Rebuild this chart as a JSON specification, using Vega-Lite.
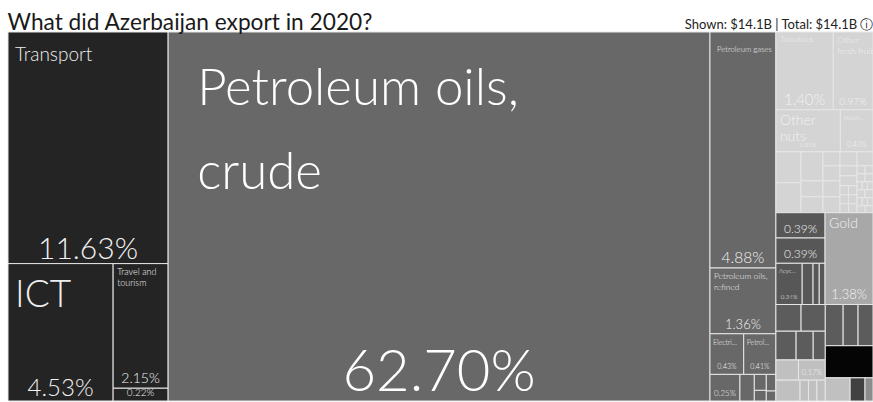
{
  "$schema": "https://vega.github.io/schema/vega-lite/v6.json",
  "width": 865,
  "height": 369,
  "autosize": {"type": "none"},
  "padding": {"left": 8, "top": 32, "right": 0, "bottom": 1},
  "background": "#ffffff",
  "title": {"text": "What did Azerbaijan export in 2020?", "anchor": "start", "font": "Lato", "fontSize": 22.7, "fontWeight": "normal", "color": "#1a1a1a", "offset": -17},
  "config": {
    "view": {"stroke": null},
    "axisX": {"titleAnchor": "end", "titleFont": "Lato", "titleFontSize": 13, "titleFontWeight": "normal", "titleColor": "#222222", "titlePadding": 4, "titleBaseline": "alphabetic", "labels": false, "ticks": false, "domain": false, "grid": false}
  },
  "data": {"values": [
    {"name": "Transport", "sector": "Services", "v": 11.63, "c": 1, "r": 1, "k": 1, "s": 1},
    {"name": "ICT", "sector": "Services", "v": 4.53, "c": 1, "r": 2, "k": 1, "s": 1},
    {"name": "Travel and\ntourism", "sector": "Services", "v": 2.15, "c": 1, "r": 2, "k": 2, "s": 1},
    {"name": "Insurance and finance", "sector": "Services", "v": 0.22, "c": 1, "r": 2, "k": 2, "s": 2},
    {"name": "Petroleum oils,\ncrude", "sector": "Minerals", "v": 62.70, "c": 2, "r": 1, "k": 1, "s": 1},
    {"name": "Petroleum gases", "sector": "Minerals", "v": 4.88, "c": 3, "r": 1, "k": 1, "s": 1},
    {"name": "Petroleum oils,\nrefined", "sector": "Minerals", "v": 1.36, "c": 3, "r": 2, "k": 1, "s": 1},
    {"name": "Electrical energy", "sector": "Minerals", "v": 0.43, "c": 3, "r": 3, "k": 1, "s": 1},
    {"name": "Petroleum coke", "sector": "Minerals", "v": 0.41, "c": 3, "r": 3, "k": 2, "s": 1},
    {"name": "Petroleum bitumen", "sector": "Minerals", "v": 0.25, "c": 3, "r": 4, "k": 1, "s": 1},
    {"name": "Bituminous mixtures", "sector": "Minerals", "v": 0.12, "c": 3, "r": 4, "k": 2, "s": 1},
    {"name": "Coal", "sector": "Minerals", "v": 0.06, "c": 3, "r": 4, "k": 3, "s": 1},
    {"name": "Lubricating oils", "sector": "Minerals", "v": 0.04, "c": 3, "r": 4, "k": 3, "s": 2},
    {"name": "Salt", "sector": "Minerals", "v": 0.05, "c": 3, "r": 4, "k": 4, "s": 1},
    {"name": "Sulphur", "sector": "Minerals", "v": 0.03, "c": 3, "r": 4, "k": 4, "s": 2},
    {"name": "Tomatoes", "sector": "Agriculture", "v": 1.40, "c": 4, "r": 1, "k": 1, "s": 1},
    {"name": "Other\nfresh fruit", "sector": "Agriculture", "v": 0.97, "c": 4, "r": 1, "k": 2, "s": 1},
    {"name": "Other\nnuts", "sector": "Agriculture", "v": 0.85, "c": 4, "r": 2, "k": 1, "s": 1},
    {"name": "Peaches and cherries", "sector": "Agriculture", "v": 0.43, "c": 4, "r": 2, "k": 2, "s": 1},
    {"name": "Apples and pears", "sector": "Agriculture", "v": 0.243, "c": 4, "r": 3, "k": 1, "s": 1},
    {"name": "Citrus fruit", "sector": "Agriculture", "v": 0.235, "c": 4, "r": 3, "k": 1, "s": 2},
    {"name": "Persimmons", "sector": "Agriculture", "v": 0.200, "c": 4, "r": 3, "k": 2, "s": 1},
    {"name": "Potatoes", "sector": "Agriculture", "v": 0.110, "c": 4, "r": 3, "k": 2, "s": 2},
    {"name": "Grapes", "sector": "Agriculture", "v": 0.110, "c": 4, "r": 3, "k": 2, "s": 3},
    {"name": "Fruit juices", "sector": "Agriculture", "v": 0.075, "c": 4, "r": 3, "k": 3, "s": 1},
    {"name": "Tea", "sector": "Agriculture", "v": 0.080, "c": 4, "r": 3, "k": 3, "s": 2},
    {"name": "Melons", "sector": "Agriculture", "v": 0.085, "c": 4, "r": 3, "k": 3, "s": 3},
    {"name": "Dried fruit", "sector": "Agriculture", "v": 0.085, "c": 4, "r": 3, "k": 3, "s": 4},
    {"name": "Onions", "sector": "Agriculture", "v": 0.075, "c": 4, "r": 3, "k": 4, "s": 1},
    {"name": "Cabbages", "sector": "Agriculture", "v": 0.053, "c": 4, "r": 3, "k": 4, "s": 2},
    {"name": "Lettuce", "sector": "Agriculture", "v": 0.053, "c": 4, "r": 3, "k": 4, "s": 3},
    {"name": "Cucumbers", "sector": "Agriculture", "v": 0.024, "c": 4, "r": 3, "k": 4, "s": 4},
    {"name": "Peppers", "sector": "Agriculture", "v": 0.024, "c": 4, "r": 3, "k": 4, "s": 4},
    {"name": "Beans", "sector": "Agriculture", "v": 0.024, "c": 4, "r": 3, "k": 4, "s": 5},
    {"name": "Lemons", "sector": "Agriculture", "v": 0.024, "c": 4, "r": 3, "k": 4, "s": 5},
    {"name": "Figs", "sector": "Agriculture", "v": 0.024, "c": 4, "r": 3, "k": 4, "s": 6},
    {"name": "Walnuts", "sector": "Agriculture", "v": 0.024, "c": 4, "r": 3, "k": 4, "s": 6},
    {"name": "Pomegranates", "sector": "Agriculture", "v": 0.070, "c": 4, "r": 3, "k": 5, "s": 1},
    {"name": "Quinces", "sector": "Agriculture", "v": 0.020, "c": 4, "r": 3, "k": 5, "s": 2},
    {"name": "Plums", "sector": "Agriculture", "v": 0.020, "c": 4, "r": 3, "k": 5, "s": 2},
    {"name": "Apricots", "sector": "Agriculture", "v": 0.020, "c": 4, "r": 3, "k": 5, "s": 3},
    {"name": "Strawberries", "sector": "Agriculture", "v": 0.020, "c": 4, "r": 3, "k": 5, "s": 3},
    {"name": "Carrots", "sector": "Agriculture", "v": 0.013, "c": 4, "r": 3, "k": 5, "s": 4},
    {"name": "Garlic", "sector": "Agriculture", "v": 0.013, "c": 4, "r": 3, "k": 5, "s": 4},
    {"name": "Spinach", "sector": "Agriculture", "v": 0.014, "c": 4, "r": 3, "k": 5, "s": 4},
    {"name": "Wheat", "sector": "Agriculture", "v": 0.020, "c": 4, "r": 3, "k": 5, "s": 5},
    {"name": "Barley", "sector": "Agriculture", "v": 0.020, "c": 4, "r": 3, "k": 5, "s": 5},
    {"name": "Maize", "sector": "Agriculture", "v": 0.013, "c": 4, "r": 3, "k": 5, "s": 6},
    {"name": "Rice", "sector": "Agriculture", "v": 0.013, "c": 4, "r": 3, "k": 5, "s": 6},
    {"name": "Oats", "sector": "Agriculture", "v": 0.014, "c": 4, "r": 3, "k": 5, "s": 6},
    {"name": "Seeds", "sector": "Agriculture", "v": 0.018, "c": 4, "r": 3, "k": 5, "s": 7},
    {"name": "Spices", "sector": "Agriculture", "v": 0.017, "c": 4, "r": 3, "k": 5, "s": 7},
    {"name": "Polymers of propylene", "sector": "Chemicals", "v": 0.39, "c": 4, "r": 4, "k": 1, "s": 1},
    {"name": "Polymers of ethylene", "sector": "Chemicals", "v": 0.39, "c": 4, "r": 4, "k": 1, "s": 2},
    {"name": "Acyclic alcohols", "sector": "Chemicals", "v": 0.34, "c": 4, "r": 4, "k": 1, "s": 3},
    {"name": "Acyclic hydrocarbons", "sector": "Chemicals", "v": 0.14, "c": 4, "r": 4, "k": 1, "s": 3},
    {"name": "Fertilizers", "sector": "Chemicals", "v": 0.08, "c": 4, "r": 4, "k": 1, "s": 3},
    {"name": "Pesticides", "sector": "Chemicals", "v": 0.075, "c": 4, "r": 4, "k": 1, "s": 3},
    {"name": "Gold", "sector": "Precious metals", "v": 1.38, "c": 4, "r": 4, "k": 2, "s": 1},
    {"name": "Aluminium", "sector": "Metals", "v": 0.211, "c": 4, "r": 5, "k": 1, "s": 1},
    {"name": "Iron and steel", "sector": "Metals", "v": 0.203, "c": 4, "r": 5, "k": 1, "s": 1},
    {"name": "Copper", "sector": "Metals", "v": 0.182, "c": 4, "r": 5, "k": 1, "s": 2},
    {"name": "Ferroalloys", "sector": "Metals", "v": 0.154, "c": 4, "r": 5, "k": 1, "s": 2},
    {"name": "Zinc", "sector": "Metals", "v": 0.109, "c": 4, "r": 5, "k": 1, "s": 2},
    {"name": "Cotton yarn", "sector": "Textiles", "v": 0.143, "c": 4, "r": 5, "k": 1, "s": 3},
    {"name": "Cotton, not carded", "sector": "Textiles", "v": 0.17, "c": 4, "r": 5, "k": 1, "s": 3},
    {"name": "Carpets", "sector": "Textiles", "v": 0.158, "c": 4, "r": 5, "k": 1, "s": 4},
    {"name": "Woven fabrics", "sector": "Textiles", "v": 0.055, "c": 4, "r": 5, "k": 1, "s": 4},
    {"name": "Apparel", "sector": "Textiles", "v": 0.055, "c": 4, "r": 5, "k": 1, "s": 4},
    {"name": "Footwear", "sector": "Textiles", "v": 0.055, "c": 4, "r": 5, "k": 1, "s": 4},
    {"name": "Aluminium plates", "sector": "Metals", "v": 0.231, "c": 4, "r": 5, "k": 2, "s": 1},
    {"name": "Steel bars", "sector": "Metals", "v": 0.193, "c": 4, "r": 5, "k": 2, "s": 1},
    {"name": "Iron pipes", "sector": "Metals", "v": 0.193, "c": 4, "r": 5, "k": 2, "s": 1},
    {"name": "Cars", "sector": "Vehicles", "v": 0.481, "c": 4, "r": 5, "k": 2, "s": 2},
    {"name": "Cotton fabrics", "sector": "Textiles", "v": 0.180, "c": 4, "r": 5, "k": 2, "s": 3},
    {"name": "Electrical machinery", "sector": "Electronics", "v": 0.108, "c": 4, "r": 5, "k": 2, "s": 3},
    {"name": "Other products", "sector": "Other", "v": 0.058, "c": 4, "r": 5, "k": 2, "s": 3}
  ]},
  "transform": [
    {"window": [{"op": "row_number", "as": "i"}]},
    {"joinaggregate": [{"op": "sum", "field": "v", "as": "cT"}], "groupby": ["c"]},
    {"joinaggregate": [{"op": "sum", "field": "v", "as": "rT"}], "groupby": ["c", "r"]},
    {"joinaggregate": [{"op": "sum", "field": "v", "as": "kT"}], "groupby": ["c", "r", "k"]},
    {"joinaggregate": [{"op": "sum", "field": "v", "as": "sT"}], "groupby": ["c", "r", "k", "s"]},
    {"stack": "v", "groupby": [], "sort": [{"field": "i"}], "as": ["a0", "a1"]},
    {"joinaggregate": [{"op": "min", "field": "a0", "as": "cx"}], "groupby": ["c"]},
    {"stack": "v", "groupby": ["c"], "sort": [{"field": "i"}], "offset": "normalize", "as": ["b0", "b1"]},
    {"joinaggregate": [{"op": "min", "field": "b0", "as": "ry"}], "groupby": ["c", "r"]},
    {"stack": "v", "groupby": ["c", "r"], "sort": [{"field": "i"}], "offset": "normalize", "as": ["d0", "d1"]},
    {"joinaggregate": [{"op": "min", "field": "d0", "as": "kf"}], "groupby": ["c", "r", "k"]},
    {"stack": "v", "groupby": ["c", "r", "k"], "sort": [{"field": "i"}], "offset": "normalize", "as": ["e0", "e1"]},
    {"joinaggregate": [{"op": "min", "field": "e0", "as": "sf"}], "groupby": ["c", "r", "k", "s"]},
    {"stack": "v", "groupby": ["c", "r", "k", "s"], "sort": [{"field": "i"}], "offset": "normalize", "as": ["f0", "f1"]},
    {"calculate": "datum.cx + datum.kf * datum.cT", "as": "kx0"},
    {"calculate": "datum.kT / datum.rT * datum.cT", "as": "kw"},
    {"calculate": "datum.rT / datum.cT", "as": "rh"},
    {"calculate": "datum.ry + datum.sf * datum.rh", "as": "y0"},
    {"calculate": "datum.y0 + datum.sT / datum.kT * datum.rh", "as": "y1"},
    {"calculate": "datum.kx0 + datum.f0 * datum.kw", "as": "x0"},
    {"calculate": "datum.kx0 + datum.f1 * datum.kw", "as": "x1"},
    {"calculate": "(datum.x0 + datum.x1) / 2", "as": "xm"},
    {"calculate": "format(datum.v, '.2f') + '%'", "as": "pct"}
  ],
  "layer": [
    {
      "mark": {"type": "rect", "stroke": "#e6e6e6", "strokeWidth": 1},
      "encoding": {
        "x": {"field": "x0", "type": "quantitative", "scale": {"nice": false, "zero": true}, "axis": {"orient": "top", "title": "Shown:  $14.1B | Total:  $14.1B  ⓘ"}},
        "x2": {"field": "x1"},
        "y": {"field": "y0", "type": "quantitative", "scale": {"nice": false, "zero": true, "reverse": true, "domain": [0, 1]}, "axis": null},
        "y2": {"field": "y1"},
        "fill": {"field": "sector", "type": "nominal", "legend": null, "scale": {
          "domain": ["Services", "Minerals", "Agriculture", "Chemicals", "Precious metals", "Metals", "Textiles", "Vehicles", "Electronics", "Other"],
          "range": ["#242424", "#686868", "#d4d4d4", "#575757", "#a8a8a8", "#5c5c5c", "#c0c0c0", "#050505", "#414141", "#8c8c8c"]}}
      }
    },
    {
      "transform": [{"filter": {"field": "name", "oneOf": ["Petroleum oils,\ncrude"]}}],
      "mark": {"type": "text", "align": "left", "baseline": "top", "dx": 29, "dy": 33, "font": "Lato", "fontWeight": 300, "fontSize": 51, "lineHeight": 84, "lineBreak": "\n", "fill": "#ffffff"},
      "encoding": {
        "x": {"field": "x0", "type": "quantitative", "axis": {"orient": "top", "title": "Shown:  $14.1B | Total:  $14.1B  ⓘ"}},
        "y": {"field": "y0", "type": "quantitative", "axis": null},
        "text": {"field": "name"}
      }
    },
    {
      "transform": [{"filter": {"field": "name", "oneOf": ["Petroleum oils,\ncrude"]}}],
      "mark": {"type": "text", "align": "center", "baseline": "alphabetic", "dy": -10, "font": "Lato", "fontWeight": 300, "fontSize": 58, "fill": "#ffffff"},
      "encoding": {
        "x": {"field": "xm", "type": "quantitative", "axis": {"orient": "top", "title": "Shown:  $14.1B | Total:  $14.1B  ⓘ"}},
        "y": {"field": "y1", "type": "quantitative", "axis": null},
        "text": {"field": "pct"}
      }
    },
    {
      "transform": [{"filter": {"field": "name", "oneOf": ["Transport", "ICT", "Petroleum gases"]}}],
      "mark": {"type": "text", "align": "left", "baseline": "top", "dx": 7, "dy": 14, "font": "Lato", "fontWeight": 300, "lineBreak": "\n", "fill": "#eeeeee"},
      "encoding": {
        "x": {"field": "x0", "type": "quantitative", "axis": {"orient": "top", "title": "Shown:  $14.1B | Total:  $14.1B  ⓘ"}},
        "y": {"field": "y0", "type": "quantitative", "axis": null},
        "text": {"field": "name"},
        "size": {"field": "name", "type": "ordinal", "legend": null, "scale": {"type": "ordinal", "domain": ["Transport", "ICT", "Petroleum gases"], "range": [19, 37, 7.8]}}
      }
    },
    {
      "transform": [{"filter": {"field": "name", "oneOf": ["Travel and\ntourism", "Petroleum oils,\nrefined", "Tomatoes", "Other\nfresh fruit", "Other\nnuts", "Gold"]}}],
      "mark": {"type": "text", "align": "left", "baseline": "top", "dx": 4, "dy": 4, "font": "Lato", "fontWeight": 300, "lineBreak": "\n", "fill": "#f2f2f2"},
      "encoding": {
        "x": {"field": "x0", "type": "quantitative", "axis": {"orient": "top", "title": "Shown:  $14.1B | Total:  $14.1B  ⓘ"}},
        "y": {"field": "y0", "type": "quantitative", "axis": null},
        "text": {"field": "name"},
        "size": {"field": "name", "type": "ordinal", "legend": null, "scale": {"type": "ordinal",
          "domain": ["Travel and\ntourism", "Petroleum oils,\nrefined", "Tomatoes", "Other\nfresh fruit", "Other\nnuts", "Gold"],
          "range": [9, 8.5, 8, 8.5, 14, 14]}}
      }
    },
    {
      "transform": [{"filter": {"field": "name", "oneOf": ["Electrical energy", "Petroleum coke", "Peaches and cherries", "Acyclic alcohols"]}}],
      "mark": {"type": "text", "align": "left", "baseline": "top", "dx": 3, "dy": 5, "font": "Lato", "fontWeight": 300, "ellipsis": "...", "limit": {"expr": "scale('x', datum.x1) - scale('x', datum.x0) - 9"}, "fill": "#f2f2f2"},
      "encoding": {
        "x": {"field": "x0", "type": "quantitative", "axis": {"orient": "top", "title": "Shown:  $14.1B | Total:  $14.1B  ⓘ"}},
        "y": {"field": "y0", "type": "quantitative", "axis": null},
        "text": {"field": "name"},
        "size": {"field": "name", "type": "ordinal", "legend": null, "scale": {"type": "ordinal",
          "domain": ["Electrical energy", "Petroleum coke", "Peaches and cherries", "Acyclic alcohols"],
          "range": [7, 7, 6.5, 6]}}
      }
    },
    {
      "transform": [{"filter": {"field": "name", "oneOf": ["Transport", "ICT", "Travel and\ntourism", "Insurance and finance", "Petroleum gases", "Petroleum oils,\nrefined", "Electrical energy", "Petroleum coke", "Petroleum bitumen", "Tomatoes", "Other\nfresh fruit", "Other\nnuts", "Peaches and cherries", "Polymers of propylene", "Polymers of ethylene", "Gold", "Acyclic alcohols", "Cotton, not carded"]}}],
      "mark": {"type": "text", "align": "center", "baseline": "alphabetic", "dy": -5, "font": "Lato", "fontWeight": 300, "fill": "#f2f2f2"},
      "encoding": {
        "x": {"field": "xm", "type": "quantitative", "axis": {"orient": "top", "title": "Shown:  $14.1B | Total:  $14.1B  ⓘ"}},
        "y": {"field": "y1", "type": "quantitative", "axis": null},
        "text": {"field": "pct"},
        "size": {"field": "name", "type": "ordinal", "legend": null, "scale": {"type": "ordinal",
          "domain": ["Transport", "ICT", "Travel and\ntourism", "Insurance and finance", "Petroleum gases", "Petroleum oils,\nrefined", "Electrical energy", "Petroleum coke", "Petroleum bitumen", "Tomatoes", "Other\nfresh fruit", "Other\nnuts", "Peaches and cherries", "Polymers of propylene", "Polymers of ethylene", "Gold", "Acyclic alcohols", "Cotton, not carded"],
          "range": [30, 24, 14, 10, 15.5, 13, 7, 7, 8, 15, 10, 6, 7, 12, 12, 13, 6, 7.5]}}
      }
    }
  ],
  "resolve": {"scale": {"size": "independent"}}
}
